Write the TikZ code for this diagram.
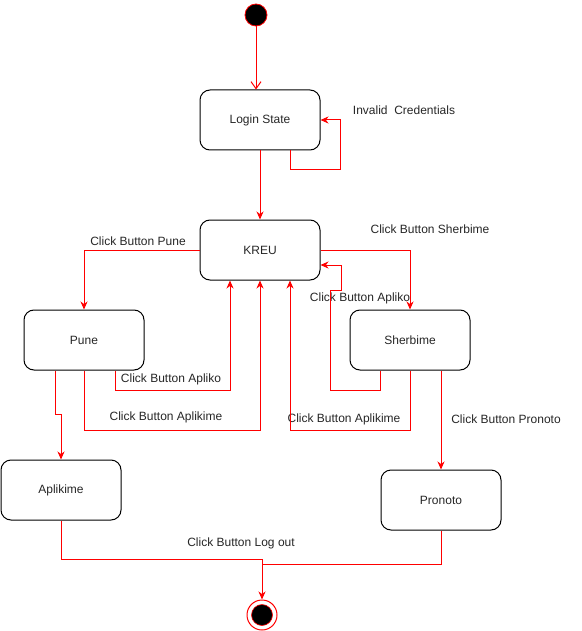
\documentclass[tikz,border=0pt]{standalone}
\usepackage{fontspec}
\setmainfont{Liberation Sans}
\usetikzlibrary{arrows.meta,calc}
\tikzset{
  statebox/.style={draw=black, line width=1pt, rounded corners=10pt, minimum width=120pt, minimum height=60pt, inner sep=0pt, font=\fontsize{12}{14}\selectfont, text=black!85},
  lbl/.style={inner sep=0pt, font=\fontsize{12}{14}\selectfont, text=black!85},
  conn/.style={draw=red, line width=1pt},
  arr/.style={conn, -{Stealth[length=8pt,width=7pt,inset=2.5pt]}},
  openarr/.style={conn, -{Straight Barb[length=7pt,width=10pt]}},
}
\begin{document}
\begin{tikzpicture}[x=1pt,y=-1pt]
\useasboundingbox (0,0) rectangle (581,631);
% nodes
\node[circle, fill=black, draw=red, line width=0.8pt, minimum size=22pt, inner sep=0pt] (start) at (256,15) {};
\node[statebox] (login) at (260,120) {Login State};
\node[statebox] (kreu) at (260,250) {KREU};
\node[statebox] (pune) at (84,340) {Pune};
\node[statebox] (sherb) at (410,340) {Sherbime};
\node[statebox] (aplik) at (61,490) {Aplikime};
\node[statebox] (pron) at (441,500) {Pronoto};
\node[circle, draw=red, line width=1pt, fill=white, minimum size=30pt, inner sep=0pt] (end) at (262,615) {};
\node[circle, fill=black, draw=red, line width=0.6pt, minimum size=21pt, inner sep=0pt] (endin) at (end.center) {};
% labels
\node[lbl] (linv) at (404,110) {Invalid\ \ Credentials};
\node[lbl] (lpune) at (138,241) {Click Button Pune};
\node[lbl] (lsher) at (430,229) {Click Button Sherbime};
\node[lbl] (lap1) at (171,379) {Click Button Apliko};
\node[lbl] (lapl1) at (166,417) {Click Button Aplikime};
\node[lbl] (lap2) at (360,298) {Click Button Apliko};
\node[lbl] (lapl2) at (344,419) {Click Button Aplikime};
\node[lbl] (lpron) at (506,419) {Click Button Pronoto};
\node[lbl] (llog) at (241,543) {Click Button Log out};
% connectors
\draw[openarr] (start) -- (start |- login.north);
\draw[arr] ($(login.south)+(30,0)$) |- ($(login.east)+(20,50)$) |- (login.east);
\draw[arr] (login) -- (kreu);
\draw[arr] (kreu.west) -| (pune.north);
\draw[arr] (kreu.east) -| (sherb.north);
\draw[arr] ($(pune.south)+(31,0)$) |- ($(kreu.south)+(-30,110)$) -- ($(kreu.south)+(-30,0)$);
\draw[arr] (pune.south) |- ($(kreu.south)+(0,150)$) -- (kreu.south);
\draw[arr] ($(pune.south)+(-29,0)$) -- ++(0,44) -| (aplik.north);
\draw[arr] ($(sherb.south)+(-30,0)$) -- ++(0,20) -- ++(-50,0) -- ++(0,-100) -- ++(11,0) |- ($(kreu.east)+(0,15)$);
\draw[arr] (sherb.south) |- ($(kreu.south)+(30,150)$) -- ($(kreu.south)+(30,0)$);
\draw[arr] ($(sherb.south)+(31,0)$) -- (pron.north);
\draw[arr] (aplik.south) |- ($(end.north)+(0,-40)$) -- (end.north);
\draw[conn] (pron.south) |- ($(end.north)+(0,-35)$);
\end{tikzpicture}
\end{document}
